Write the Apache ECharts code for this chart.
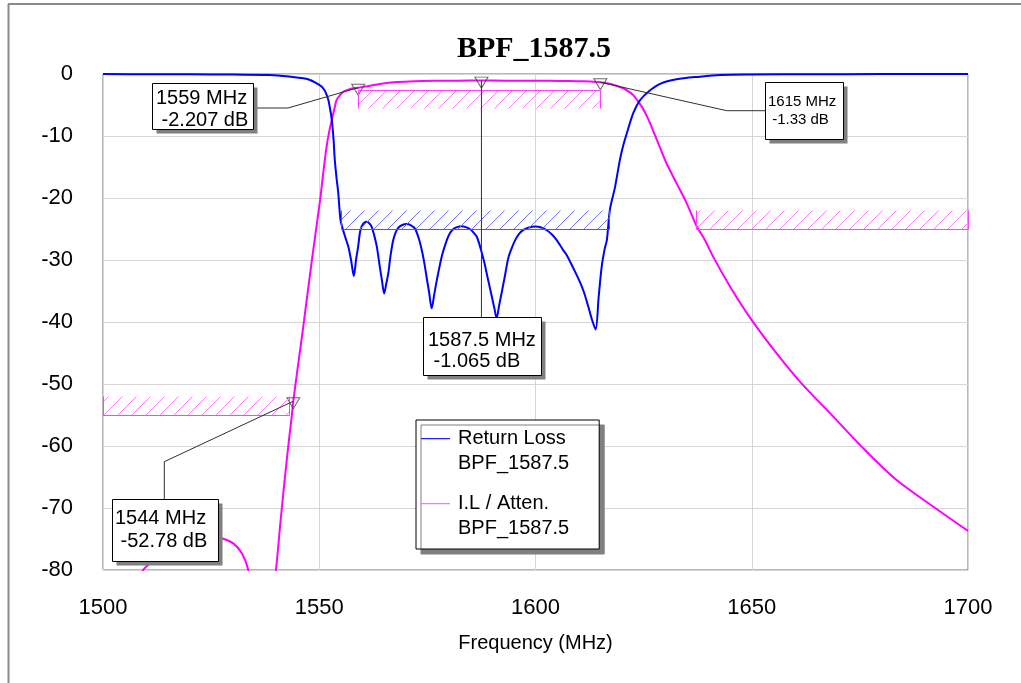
<!DOCTYPE html>
<html><head><meta charset="utf-8">
<script src="https://cdn.jsdelivr.net/npm/echarts@6/dist/echarts.min.js"></script>
<style>html,body{margin:0;padding:0;background:#fff}#c{width:1021px;height:683px}</style>
</head><body><div id="c"></div>
<script>
// ---------- data ----------
const titleText = 'BPF_1587.5';
const xAxisName = 'Frequency (MHz)';
const xTicks = [1500, 1550, 1600, 1650, 1700];
const yTicks = [0, -10, -20, -30, -40, -50, -60, -70, -80];
const seriesNames = ['Return Loss', 'I.L / Atten.'];
const legendSub = 'BPF_1587.5';

// Return loss (S11, dB)
const rlData = [
 [1500,-0.02],[1510,-0.03],[1520,-0.05],[1530,-0.1],[1538.6,-0.16],[1543,-0.4],[1546.3,-0.7],
 [1548,-1.0],[1549.4,-1.5],[1550.3,-1.9],[1550.9,-2.3],[1551.5,-3.0],[1552.1,-4.2],[1552.5,-5.6],
 [1552.9,-7.4],[1553.3,-10.5],[1553.6,-13.9],[1554.0,-16.8],[1554.4,-19.2],[1554.9,-23.5],
 [1555.4,-24.9],[1556.0,-26.3],[1556.7,-27.8],[1557.4,-30.2],[1558.0,-32.6],[1558.5,-30.0],
 [1559.0,-27.8],[1559.4,-25.6],[1559.8,-24.6],[1560.4,-24.0],[1561.0,-23.85],[1561.6,-24.1],
 [1562.1,-24.6],[1562.7,-26.0],[1563.3,-27.8],[1564.0,-31.1],[1564.5,-33.3],[1565.0,-35.4],
 [1565.5,-33.8],[1566.0,-32.0],[1566.5,-29.2],[1567.1,-26.8],[1567.7,-25.5],[1568.3,-24.8],
 [1569.2,-24.35],[1570.2,-24.2],[1571.2,-24.4],[1572.1,-24.9],[1573.0,-26.5],[1573.7,-28.4],
 [1574.3,-30.5],[1574.8,-32.7],[1575.4,-35.2],[1576.0,-37.8],[1576.6,-35.5],[1577.2,-33.2],
 [1578.3,-29.5],[1579.5,-26.8],[1580.2,-25.7],[1581.0,-25.0],[1582.0,-24.65],[1582.9,-24.55],
 [1583.9,-24.7],[1584.9,-25.05],[1585.7,-25.6],[1586.4,-26.2],[1587.0,-27.4],[1587.6,-28.9],
 [1588.2,-30.5],[1588.7,-32.1],[1589.3,-34.0],[1589.9,-35.9],[1590.5,-37.8],[1591.0,-39.4],
 [1591.6,-37.3],[1592.2,-35.2],[1593.0,-32.3],[1593.7,-29.7],[1594.5,-28.1],[1595.3,-26.8],
 [1596.2,-25.8],[1597.2,-25.15],[1598.5,-24.75],[1599.9,-24.6],[1601.3,-24.75],[1602.6,-25.2],
 [1603.8,-25.9],[1604.9,-26.8],[1606.4,-28.4],[1607.2,-29.2],[1608.8,-31.4],[1610.3,-33.6],
 [1611.2,-35.2],[1612.2,-37.5],[1613.0,-39.5],[1613.9,-41.2],[1614.6,-36.0],[1615.3,-31.1],
 [1616.0,-28.2],[1616.5,-26.8],[1617.2,-21.9],[1618.4,-18.2],[1619.5,-13.9],[1620.3,-11.5],
 [1621.1,-9.6],[1622.6,-6.3],[1624.2,-4.2],[1626.1,-2.85],[1628.8,-1.6],[1632.6,-0.86],
 [1638.0,-0.43],[1642.7,-0.16],[1650,-0.08],[1665,-0.04],[1680,-0.02],[1700,-0.01]
];

// Insertion loss / attenuation (S21, dB)
const ilData = [
 [1500,-95],[1505,-86],[1509.3,-80],[1510.1,-79.4],[1513,-77.6],[1517,-76.0],[1521,-75.0],
 [1524,-74.6],[1527,-74.8],[1530.1,-75.7],[1532.1,-77.3],[1533.6,-80],[1535,-86],[1536.5,-100],
 [1538,-90],[1539.2,-84],[1540.0,-80],[1541,-72.5],[1542,-65.5],[1543,-59.0],[1543.6,-55.5],
 [1544,-52.78],[1545,-47.5],[1546.3,-40.8],[1548.3,-30],[1550.2,-20.3],[1551.0,-15.5],
 [1551.7,-11.7],[1552.3,-9.3],[1552.9,-7.4],[1553.5,-5.6],[1554.0,-4.2],[1554.8,-3.4],
 [1555.6,-2.85],[1557.0,-2.45],[1559,-2.207],[1561.7,-1.9],[1564.0,-1.6],[1568,-1.3],
 [1572,-1.15],[1577,-1.09],[1582,-1.07],[1587.5,-1.065],[1593,-1.07],[1598,-1.08],[1603,-1.1],
 [1608,-1.13],[1611,-1.18],[1613.4,-1.24],[1615,-1.33],[1616.5,-1.5],[1618.5,-1.85],
 [1620.3,-2.3],[1621.5,-2.8],[1622.6,-3.4],[1623.6,-4.3],[1624.6,-5.3],[1625.6,-6.6],
 [1626.5,-7.95],[1628.4,-11.2],[1630.3,-14.4],[1632.6,-17.6],[1635.0,-20.9],[1637.3,-24.6],
 [1639.2,-26.8],[1641.1,-29.5],[1645.0,-34.3],[1650.0,-39.7],[1655.8,-45.1],[1661.5,-49.9],
 [1668.1,-54.7],[1675.4,-60.1],[1683.5,-65.5],[1692.0,-69.8],[1700,-73.7]
];

// markers [freq MHz, dB]
const markerData = [[1559,-2.207],[1615,-1.33],[1587.5,-1.065],[1544,-52.78]];

// spec masks [fStart, fEnd, limit dB, hatch edge dB]
const ilMasks = [[1500,1543,-55,-52],[1559,1615,-2.5,-5.5],[1637,1700,-25,-22]];
const rlMasks = [[1555,1617,-25,-22]];

// ---------- styles / layout ----------
const FONT = 'Liberation Sans, Arial, sans-serif';
const BLUE = '#0000ff', MAG = '#ff00ff';
const annLayout = [
  {box:[152,83,101,46], tx:156, ty:88, lh:21.5, fs:20, path:[[253,108],[288,108]]},
  {box:[765,82,78,57], tx:768, ty:92.5, lh:18.3, fs:15, path:[[765,110.7],[726.7,110.7]]},
  {box:[423,317,118,58], tx:428, ty:329.5, lh:21, fs:20, path:null},
  {box:[112,499,106,62], tx:115, ty:506.6, lh:23.4, fs:20, path:[[164.3,499],[164.3,461.7]]}
];

const chart = echarts.init(document.getElementById('c'), null, {renderer: 'canvas'});
const iconPath = 'path://M0,0h0.01v0.01h-0.01zM0,12h29v1.3h-29zM0,49.99h0.01v0.01h-0.01z';

chart.setOption({
  animation: false,
  backgroundColor: '#fff',
  grid: {left: 103, top: 74, right: 53, bottom: 113, show: true, borderColor: '#707070', borderWidth: 1,
         backgroundColor: '#fff', outerBoundsMode: 'none', containLabel: false},
  xAxis: {
    type: 'value', min: xTicks[0], max: xTicks[xTicks.length - 1], interval: xTicks[1] - xTicks[0],
    axisLine: {show: false}, axisTick: {show: false},
    splitLine: {show: true, lineStyle: {color: '#d6d6d6', width: 1}},
    axisLabel: {fontSize: 22, fontFamily: FONT, color: '#000', margin: 27,
                formatter: function (v) { return String(v); }},
    name: xAxisName, nameLocation: 'middle', nameGap: 63,
    nameTextStyle: {fontSize: 20, fontFamily: FONT, color: '#000'}
  },
  yAxis: {
    type: 'value', min: yTicks[yTicks.length - 1], max: yTicks[0], interval: yTicks[0] - yTicks[1],
    axisLine: {show: false}, axisTick: {show: false},
    splitLine: {show: true, lineStyle: {color: '#d6d6d6', width: 1}},
    axisLabel: {fontSize: 22, fontFamily: FONT, color: '#000', margin: 30,
                formatter: function (v) { return String(v); }}
  },
  legend: {
    orient: 'vertical', left: 416, top: 420,
    itemWidth: 29, itemHeight: 50, itemGap: 15,
    padding: [6, 30, 8, 5],
    backgroundColor: '#fff', borderColor: '#000', borderWidth: 1, borderRadius: 0,
    shadowColor: '#808080', shadowOffsetX: 5, shadowOffsetY: 5, shadowBlur: 0,
    selectedMode: false,
    textStyle: {fontSize: 20, lineHeight: 25, fontFamily: FONT, color: '#000', padding: [0, 0, 0, 3]},
    formatter: function (n) { return n + '\n' + legendSub; },
    data: [
      {name: seriesNames[0], icon: iconPath, itemStyle: {color: '#2020ff', borderWidth: 0}},
      {name: seriesNames[1], icon: iconPath, itemStyle: {color: '#ff70ff', borderWidth: 0}}
    ]
  },
  series: [
    {name: seriesNames[1], type: 'line', data: ilData, showSymbol: false, smooth: 0.3,
     lineStyle: {color: MAG, width: 2}, itemStyle: {color: MAG}, z: 4, silent: true, clip: true},
    {name: seriesNames[0], type: 'line', data: rlData, showSymbol: false, smooth: 0.3,
     lineStyle: {color: BLUE, width: 2}, itemStyle: {color: BLUE}, z: 5, silent: true, clip: true},
    {type: 'scatter', data: markerData, symbol: 'path://M0,0L14,0L7,12Z', symbolSize: [13, 11],
     symbolOffset: [0, 2], itemStyle: {color: 'rgba(255,255,255,0)', borderColor: '#404040', borderWidth: 1},
     z: 8, silent: true}
  ]
});

// masks, drawn through the axis scales (convertToPixel)
const g = [];
function seg(x1, y1, x2, y2, color, z) {
  g.push({type: 'line', z: z, silent: true, shape: {x1: x1, y1: y1, x2: x2, y2: y2},
          style: {stroke: color, lineWidth: 1, fill: null}});
}
function addMask(m, lineColor, hatchColor) {
  const a = chart.convertToPixel({gridIndex: 0}, [m[0], m[2]]);
  const b = chart.convertToPixel({gridIndex: 0}, [m[1], m[3]]);
  const L = Math.round(a[0]), R = Math.round(b[0]);
  const yl = Math.round(a[1]), yh = Math.round(b[1]);
  const T = Math.min(yl, yh), B = Math.max(yl, yh);
  const s = 14;
  for (let k = Math.ceil((L + T) / s); k * s <= R + B; k++) {
    const v = k * s;
    const xs = Math.max(L, v - B), xe = Math.min(R, v - T);
    if (xe - xs > 0.5) seg(xs + 0.5, v - xs + 0.5, xe + 0.5, v - xe + 0.5, hatchColor, 50);
  }
  seg(L + 0.5, yl + 0.5, R + 0.5, yl + 0.5, lineColor, 51);
  seg(L + 0.5, yl + 0.5, L + 0.5, yh + 0.5, lineColor, 51);
  seg(R + 0.5, yl + 0.5, R + 0.5, yh + 0.5, lineColor, 51);
}
ilMasks.forEach(function (m) { addMask(m, '#ff40ff', '#ff80ff'); });
rlMasks.forEach(function (m) { addMask(m, '#5050ff', '#7070ff'); });

g.push({type: 'line', shape: {x1: 8.5, y1: 4, x2: 8.5, y2: 683}, style: {stroke: '#8a8a8a', lineWidth: 2}, z: 100});
g.push({type: 'line', shape: {x1: 8, y1: 4, x2: 1021, y2: 4}, style: {stroke: '#8a8a8a', lineWidth: 2}, z: 100});
g.push({type: 'text', x: 534, y: 49, z: 100,
  style: {text: titleText, font: 'bold 30px "Liberation Serif", "Times New Roman", serif', fill: '#000',
          textAlign: 'center', textVerticalAlign: 'middle', verticalAlign: 'middle', align: 'center'}});
markerData.forEach(function (m, i) {
  const lay = annLayout[i];
  const p = chart.convertToPixel({gridIndex: 0}, m);
  const pts = lay.path ? lay.path.concat([p]) : [[p[0], lay.box[1]], p];
  g.push({type: 'polyline', shape: {points: pts}, style: {stroke: '#303030', lineWidth: 1, fill: null}, z: 101});
  const bx = lay.box;
  g.push({type: 'rect', shape: {x: bx[0] + 4.5, y: bx[1] + 4.5, width: bx[2], height: bx[3]},
          style: {fill: '#808080'}, z: 102});
  g.push({type: 'rect', shape: {x: bx[0] + 0.5, y: bx[1] + 0.5, width: bx[2], height: bx[3]},
          style: {fill: '#fff', stroke: '#000', lineWidth: 1}, z: 103});
  g.push({type: 'text', x: lay.tx, y: lay.ty, z: 104,
          style: {text: m[0] + ' MHz\n ' + m[1] + ' dB', font: lay.fs + 'px ' + FONT, fill: '#000',
                  lineHeight: lay.lh, verticalAlign: 'top', textVerticalAlign: 'top'}});
});
chart.setOption({graphic: g});
</script></body></html>
